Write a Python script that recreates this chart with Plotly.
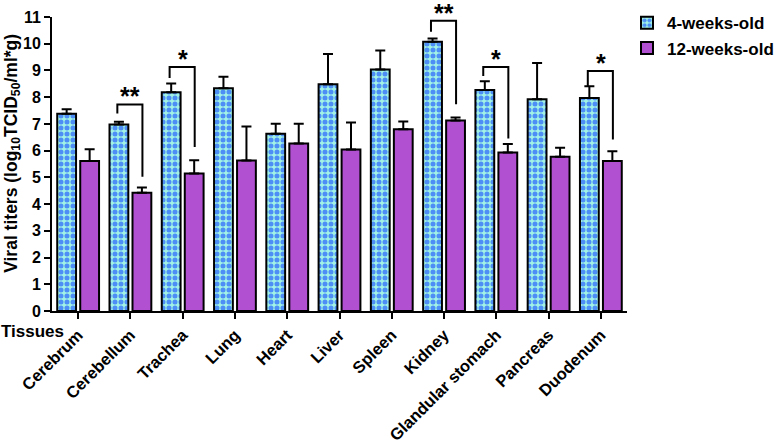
import plotly.graph_objects as go

tissues = ["Cerebrum", "Cerebellum", "Trachea", "Lung", "Heart", "Liver", "Spleen",
           "Kidney", "Glandular stomach", "Pancreas", "Duodenum"]
young_mean = [7.38, 6.98, 8.18, 8.33, 6.63, 8.48, 9.04, 10.07, 8.27, 7.92, 7.97]
young_err = [0.17, 0.10, 0.33, 0.43, 0.38, 1.14, 0.71, 0.13, 0.33, 1.36, 0.44]
old_mean = [5.61, 4.42, 5.14, 5.63, 6.27, 6.04, 6.80, 7.13, 5.93, 5.77, 5.61]
old_err = [0.44, 0.20, 0.50, 1.27, 0.74, 1.01, 0.29, 0.11, 0.32, 0.34, 0.37]

# significance brackets: category index, left-leg bottom, top, right-leg bottom, label
sig_idx = [1, 2, 7, 8, 10]
sig_left = [7.39, 8.72, 10.45, 8.79, 8.42]
sig_top = [7.73, 9.13, 10.86, 9.13, 8.98]
sig_right = [5.02, 6.14, 7.74, 6.45, 6.42]
sig_label = ["**", "*", "**", "*", "*"]

BLUE = "#4C8DF6"
CYAN = "#A2F3E6"
PURPLE = "#B150D0"
FONT = "Liberation Sans, Arial"

fig = go.Figure()
fig.add_trace(go.Bar(
    x=tissues, y=young_mean, name="<b>4-weeks-old</b>",
    width=0.36, offset=-0.40,
    marker=dict(color=CYAN, line=dict(color="black", width=2),
                pattern=dict(shape=".", fgcolor=BLUE, bgcolor=CYAN, size=6,
                             solidity=0.55, fillmode="replace")),
    error_y=dict(type="data", array=young_err, arrayminus=[0] * len(young_err),
                 symmetric=False, color="black", thickness=2, width=5),
))
fig.add_trace(go.Bar(
    x=tissues, y=old_mean, name="<b>12-weeks-old</b>",
    width=0.36, offset=0.04,
    marker=dict(color=PURPLE, line=dict(color="black", width=2)),
    error_y=dict(type="data", array=old_err, arrayminus=[0] * len(old_err),
                 symmetric=False, color="black", thickness=2, width=5),
))

for i, yl, yt, yr, lab in zip(sig_idx, sig_left, sig_top, sig_right, sig_label):
    xl = i - 0.25
    xr = i + 0.23
    fig.add_shape(type="path",
                  path=f"M {xl},{yl} L {xl},{yt} L {xr},{yt} L {xr},{yr}",
                  xref="x", yref="y", line=dict(color="black", width=2))
    fig.add_annotation(x=i, y=yt, xref="x", yref="y", text=f"<b>{lab}</b>",
                       showarrow=False, font=dict(size=25, color="black", family=FONT),
                       yanchor="bottom", yshift=-8)

fig.add_annotation(xref="paper", yref="paper", x=-0.092, y=-0.07,
                   xanchor="left", yanchor="middle", text="<b>Tissues</b>",
                   showarrow=False, font=dict(size=17, color="black", family=FONT))

fig.add_annotation(xref="paper", yref="paper", x=-0.07, y=0.537,
                   xanchor="center", yanchor="middle", textangle=-90,
                   text="<b>Viral titers (log<sub>10</sub>TCID<sub>50</sub>/ml*g)</b>",
                   showarrow=False, font=dict(size=17.5, color="black", family=FONT))

fig.update_layout(
    width=777, height=443,
    margin=dict(l=52, r=150, t=17, b=132, autoexpand=False),
    plot_bgcolor="white", paper_bgcolor="white",
    font=dict(family=FONT, color="black"),
    barmode="group",
    showlegend=True,
    legend=dict(x=1.0, y=1.04, xanchor="left", yanchor="top",
                font=dict(size=17, color="black"), bgcolor="rgba(0,0,0,0)",
                itemwidth=30, tracegroupgap=0),
)
fig.update_xaxes(
    range=[-0.5, 10.5], showline=True, linecolor="black", linewidth=2,
    ticks="outside", ticklen=6, tickwidth=2, tickcolor="black",
    tickangle=-45, tickfont=dict(size=16.5, color="black"),
    tickvals=tissues, ticktext=[f"<b>{t}</b>" for t in tissues],
    showgrid=False, zeroline=False, automargin=False,
)
fig.update_yaxes(
    range=[0, 11], showline=True, linecolor="black", linewidth=2,
    ticks="outside", ticklen=6, tickwidth=2, tickcolor="black",
    tickfont=dict(size=16, color="black"),
    tickvals=list(range(12)), ticktext=[f"<b>{v}</b>" for v in range(12)],
    showgrid=False, zeroline=False, automargin=False,
)
fig.write_html("out.html", config={"displayModeBar": False},
               post_script="document.body.style.margin='0';")
